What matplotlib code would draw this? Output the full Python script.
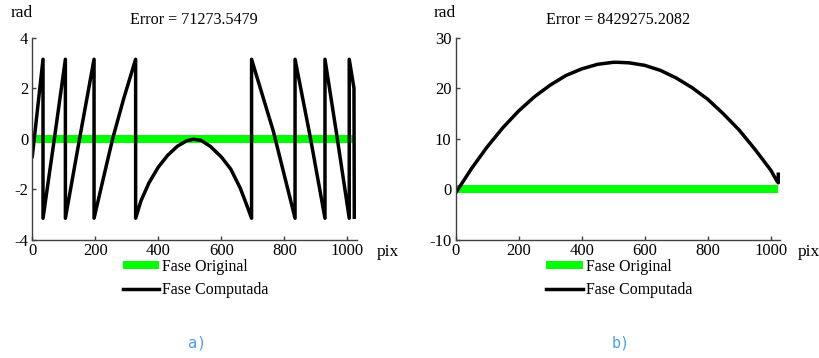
import matplotlib.pyplot as plt

plt.rcParams["axes.unicode_minus"] = False

# Fase original (plana)
orig_x = [0, 1024]
orig_y = [0, 0]

# Fase computada - caso a) (envolvida)
wrap_x = [0, 34, 34, 70, 105, 105, 150, 196, 196, 225, 255, 290, 328, 328,
          345, 370, 400, 430, 460, 490, 511, 535, 565, 600, 630, 660, 680,
          696, 696, 765, 834, 834, 881, 929, 929, 967, 1006, 1006, 1021, 1022]
wrap_y = [-0.7, 3.14, -3.14, 0, 3.14, -3.14, 0, 3.14, -3.14, -1.59, 0, 1.58,
          3.14, -3.14, -2.45, -1.75, -1.12, -0.65, -0.3, -0.08, -0.02, -0.06,
          -0.3, -0.72, -1.2, -1.95, -2.6, -3.14, 3.14, 0.3, -3.14, 3.14, 0.15,
          -3.14, 3.14, 0.1, -3.14, 3.14, 2.0, -3.1]

# Fase computada - caso b)
unw_x = [0, 50, 100, 150, 200, 250, 300, 350, 400, 450, 500, 515, 550, 600,
         650, 700, 750, 800, 850, 900, 950, 1000, 1020, 1024, 1024]
unw_y = [-0.7, 4.1, 8.4, 12.2, 15.5, 18.3, 20.6, 22.5, 23.8, 24.7, 25.1,
         25.1, 25.0, 24.5, 23.5, 22.0, 20.1, 17.8, 14.9, 11.7, 7.9, 3.8,
         1.6, 1.3, 3.0]

errors = ["71273.5479", "8429275.2082"]
yticks_a = [-4, -2, 0, 2, 4]
yticks_b = [-10, 0, 10, 20, 30]
xticks = [0, 200, 400, 600, 800, 1000]

W, H = 820, 358
serif = "Liberation Serif"

fig = plt.figure(figsize=(W / 100, H / 100), dpi=100)

panels = [
    (32.3, wrap_x, wrap_y, yticks_a, errors[0], "a)", 344),
    (455.7, unw_x, unw_y, yticks_b, errors[1], "b)", 342),
]

for x0, cx, cy, yt, err, cap, pix_dx in panels:
    ax = fig.add_axes([x0 / W, 1 - 240 / H, 324.5 / W, 202.5 / H])
    ax.plot(orig_x, orig_y, color="#00ff00", lw=5.8, solid_capstyle="butt",
            label="Fase Original")
    ax.plot(cx, cy, color="black", lw=2.5, label="Fase Computada")
    ax.set_xlim(0, 1030)
    ax.set_ylim(yt[0], yt[-1])
    ax.set_xticks(xticks)
    ax.set_yticks(yt)
    for s in ["top", "right"]:
        ax.spines[s].set_visible(False)
    for s in ["left", "bottom"]:
        ax.spines[s].set_color("#404040")
        ax.spines[s].set_linewidth(1)
    ax.tick_params(direction="in", length=3, width=1, color="#404040",
                   labelsize=12)
    ax.tick_params(axis="x", pad=2)
    ax.tick_params(axis="y", pad=3)
    for lab in ax.get_xticklabels() + ax.get_yticklabels():
        lab.set_fontfamily(serif)

    cx0 = x0 + 162
    fig.text(cx0 / W, 1 - 20 / H, "Error = " + err, ha="center", va="center",
             fontsize=11.6, family=serif)
    fig.text((x0 - 11) / W, 1 - 13 / H, "rad", ha="center", va="center",
             fontsize=12.5, family=serif)
    fig.text((x0 + pix_dx) / W, 1 - 252 / H, "pix", ha="left", va="center",
             fontsize=12.5, family=serif)
    fig.text((x0 + 165) / W, 1 - 343 / H, cap, ha="center", va="center",
             fontsize=11, family="DejaVu Sans Mono", color="#4a9fe6")

    ax.legend(loc="upper left", bbox_to_anchor=((x0 + 90.5) / W, 1 - 259 / H),
              bbox_transform=fig.transFigure, frameon=False, borderpad=0,
              borderaxespad=0, handlelength=2.3, handletextpad=0.2,
              labelspacing=0.45, prop={"family": serif, "size": 11.4})

fig.savefig("out.png", dpi=100)
